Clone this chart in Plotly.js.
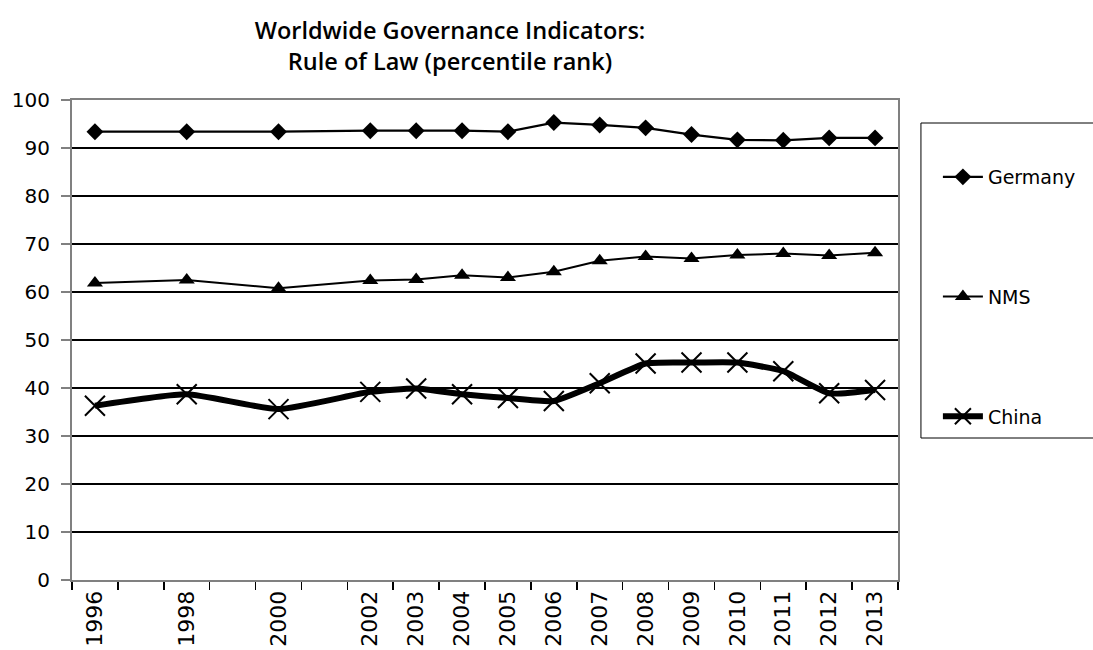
<!DOCTYPE html>
<html>
<head>
<meta charset="utf-8">
<script src="https://cdn.plot.ly/plotly-3.0.1.min.js"></script>
<style>html,body{margin:0;padding:0;background:#fff;}#chart{width:1093px;height:650px;}</style>
</head>
<body>
<div id="chart"></div>
<script>
const years = [1996, 1998, 2000, 2002, 2003, 2004, 2005, 2006, 2007, 2008, 2009, 2010, 2011, 2012, 2013];
const yearLabels = ["1996","1998","2000","2002","2003","2004","2005","2006","2007","2008","2009","2010","2011","2012","2013"];
const germany = [93.4, 93.4, 93.4, 93.6, 93.6, 93.6, 93.4, 95.3, 94.8, 94.2, 92.8, 91.7, 91.6, 92.1, 92.1];
const nms = [61.9, 62.5, 60.8, 62.4, 62.6, 63.5, 63.0, 64.2, 66.5, 67.4, 67.0, 67.7, 68.0, 67.6, 68.2];
const china = [36.3, 38.7, 35.6, 39.2, 39.9, 38.7, 37.9, 37.3, 41.0, 45.1, 45.3, 45.3, 43.5, 38.9, 39.6];
const yTicks = [0, 10, 20, 30, 40, 50, 60, 70, 80, 90, 100];

const traces = [
  {x: years, y: germany, name: 'Germany', type: 'scatter', mode: 'lines+markers', legendgroup: 'g1',
   line: {color: '#000', width: 2.2}, marker: {symbol: 'diamond', size: 13, color: '#000'}},
  {x: years, y: nms, name: 'NMS', type: 'scatter', mode: 'lines+markers', legendgroup: 'g2',
   line: {color: '#000', width: 2}, marker: {symbol: 'triangle-up', size: 14, color: '#000'}},
  {x: years, y: china, name: 'China', type: 'scatter', mode: 'lines+markers', legendgroup: 'g3',
   line: {color: '#000', width: 6, shape: 'spline', smoothing: 0.5},
   marker: {symbol: 'x-thin', size: 20, color: '#000', line: {color: '#000', width: 2}}}
];

const layout = {
  width: 1093, height: 650,
  margin: {l: 72, r: 193, t: 100, b: 70},
  paper_bgcolor: '#fff', plot_bgcolor: '#fff',
  showlegend: true,
  title: {
    text: 'Worldwide Governance Indicators:<br>Rule of Law (percentile rank)',
    font: {family: 'Open Sans', size: 23.5, color: '#000', weight: 600},
    x: 450 / 1093, xref: 'container', xanchor: 'center',
    y: 1 - 39 / 650, yref: 'container', yanchor: 'middle'
  },
  xaxis: {
    range: [1995.5, 2013.5], tickmode: 'array', tickvals: years, ticktext: yearLabels,
    tickangle: -90, ticks: '', showgrid: false, zeroline: false,
    showline: true, linecolor: '#808080', linewidth: 2, mirror: true,
    tickfont: {family: 'DejaVu Sans', size: 22, color: '#000'},
    minor: {tickmode: 'linear', tick0: 1995.5, dtick: 1, ticks: 'outside', ticklen: 8, tickcolor: '#000', tickwidth: 1.5, showgrid: false},
    fixedrange: true
  },
  yaxis: {
    range: [0, 100], tickmode: 'array', tickvals: yTicks,
    ticks: 'outside', ticklen: 9, tickcolor: '#808080', tickwidth: 1.5,
    showgrid: true, gridcolor: '#000', gridwidth: 1.3, zeroline: false,
    showline: true, linecolor: '#808080', linewidth: 2, mirror: true,
    tickfont: {family: 'DejaVu Sans', size: 20, color: '#000'},
    ticklabelstandoff: 7,
    fixedrange: true
  },
  legend: {
    x: (940 - 72) / 828, xanchor: 'left', y: (580 - 158) / 480, yanchor: 'top',
    bgcolor: 'rgba(0,0,0,0)', borderwidth: 0,
    font: {family: 'DejaVu Sans', size: 19, color: '#000'},
    tracegroupgap: 92, itemwidth: 40
  },
  shapes: [
    {type: 'rect', xref: 'paper', yref: 'paper',
     x0: (923 - 72) / 828, x1: (1100 - 72) / 828, y0: (580 - 438) / 480, y1: (580 - 123) / 480,
     line: {color: '#000', width: 1}, fillcolor: 'rgba(0,0,0,0)'}
  ]
};

Plotly.newPlot('chart', traces, layout, {displayModeBar: false, staticPlot: true});
</script>
</body>
</html>
